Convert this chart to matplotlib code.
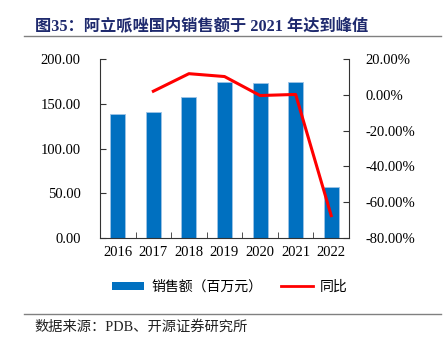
import matplotlib.pyplot as plt
from matplotlib.lines import Line2D
from matplotlib.patches import Patch

# 数据
years = ["2016", "2017", "2018", "2019", "2020", "2021", "2022"]
sales = [138.0, 140.8, 157.5, 174.0, 173.5, 174.6, 57.0]
yoy = [None, 2.0, 11.8, 10.2, -0.4, 0.2, -67.5]

fonts = ['Liberation Serif', 'Noto Sans CJK SC', 'DejaVu Sans']
plt.rcParams['font.family'] = fonts

W, H = 447, 341
fig = plt.figure(figsize=(W / 100, H / 100), dpi=100)

# 主坐标轴
ax = fig.add_axes([100 / W, (H - 238) / H, 249 / W, 179 / H])
x = list(range(len(years)))
ax.bar(x, sales, width=0.42, color='#0070C0', edgecolor='#9DC3E6', linewidth=0.6, zorder=2)
ax.set_xlim(-0.5, len(years) - 0.5)
ax.set_ylim(0, 200)
ax.set_yticks([0, 50, 100, 150, 200])
ax.set_yticklabels([f"{v:.2f}" for v in [0, 50, 100, 150, 200]])
ax.set_xticks(x)
ax.set_xticklabels(years)
ax.set_xticks([i + 0.5 for i in range(len(years) - 1)], minor=True)
ax.tick_params(axis='x', which='major', length=0, labelsize=10.5, pad=6)
ax.tick_params(axis='x', which='minor', direction='in', length=4, color='#333333')
ax.tick_params(axis='y', direction='in', length=4, labelsize=10.5, pad=14, color='#333333')
ax.spines['top'].set_visible(False)
ax.spines['right'].set_visible(False)
for s in ['left', 'bottom']:
    ax.spines[s].set_color('#333333')
    ax.spines[s].set_linewidth(0.8)

# 次坐标轴 - 同比
ax2 = ax.twinx()
yx = [i for i, v in zip(x, yoy) if v is not None]
yv = [v for v in yoy if v is not None]
ax2.plot(yx, yv, color='#FF0000', linewidth=2.2, zorder=3)
ax2.set_ylim(-80, 20)
ax2.set_yticks([-80, -60, -40, -20, 0, 20])
ax2.set_yticklabels([f"{v:.2f}%" for v in [-80, -60, -40, -20, 0, 20]])
ax2.tick_params(axis='y', direction='in', length=4, labelsize=10.5, pad=12, color='#333333')
for s in ['top', 'left', 'bottom']:
    ax2.spines[s].set_visible(False)
ax2.spines['right'].set_color('#333333')
ax2.spines['right'].set_linewidth(0.8)

# 图例
handles = [Patch(facecolor='#0070C0', edgecolor='none'),
           Line2D([0], [0], color='#FF0000', linewidth=2)]
fig.legend(handles, ['销售额（百万元）', '同比'], loc='center',
           bbox_to_anchor=(230 / W, (H - 287) / H), ncol=2, frameon=False,
           fontsize=10, handlelength=2.3, handleheight=0.5, columnspacing=1.35,
           handletextpad=0.5)

# 标题
fig.text(35 / W, (H - 27) / H, '图35：阿立哌唑国内销售额于 2021 年达到峰值',
         fontsize=11.7, fontweight='bold', color='#1F2A6E', va='center', ha='left')
fig.add_artist(Line2D([24 / W, 441 / W], [(H - 36) / H] * 2, color='#808080', linewidth=1))
fig.add_artist(Line2D([24 / W, 441 / W], [(H - 314) / H] * 2, color='#808080', linewidth=1))
fig.text(34 / W, (H - 327) / H, '数据来源：PDB、开源证券研究所',
         fontsize=10.3, color='#222222', va='center', ha='left')

fig.savefig('out.png', dpi=100)
